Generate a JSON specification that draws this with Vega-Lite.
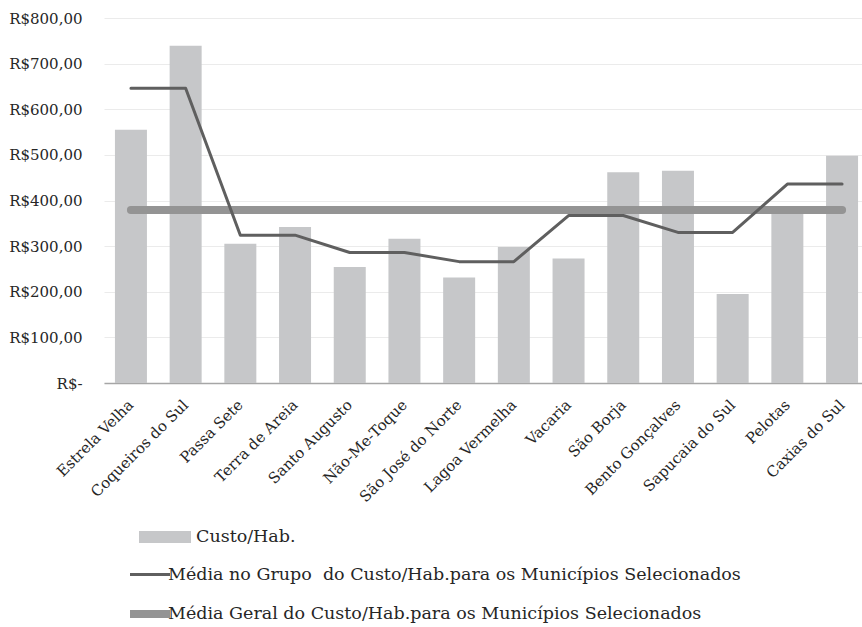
{
  "$schema": "https://vega.github.io/schema/vega-lite/v6.json",
  "autosize": "none",
  "width": 757,
  "height": 365,
  "padding": {"left": 104, "top": 18, "right": 1, "bottom": 244},
  "background": "white",
  "config": {
    "view": {"stroke": null},
    "font": "DejaVu Serif",
    "axis": {"labelFont": "DejaVu Serif", "labelFontSize": 15, "labelColor": "#262626", "titleFont": "DejaVu Serif"},
    "legend": {"labelFont": "DejaVu Serif", "labelFontSize": 17.5, "labelColor": "#262626", "padding": 0, "labelLimit": 800}
  },
  "data": {
    "values": [
      {"mun": "Estrela Velha", "custo": 555, "grupo": 646, "geral": 379},
      {"mun": "Coqueiros do Sul", "custo": 739, "grupo": 646, "geral": 379},
      {"mun": "Passa Sete", "custo": 305, "grupo": 324, "geral": 379},
      {"mun": "Terra de Areia", "custo": 342, "grupo": 324, "geral": 379},
      {"mun": "Santo Augusto", "custo": 254, "grupo": 286, "geral": 379},
      {"mun": "Não-Me-Toque", "custo": 316, "grupo": 286, "geral": 379},
      {"mun": "São José do Norte", "custo": 231, "grupo": 266, "geral": 379},
      {"mun": "Lagoa Vermelha", "custo": 298, "grupo": 266, "geral": 379},
      {"mun": "Vacaria", "custo": 273, "grupo": 367, "geral": 379},
      {"mun": "São Borja", "custo": 462, "grupo": 367, "geral": 379},
      {"mun": "Bento Gonçalves", "custo": 465, "grupo": 330, "geral": 379},
      {"mun": "Sapucaia do Sul", "custo": 195, "grupo": 330, "geral": 379},
      {"mun": "Pelotas", "custo": 375, "grupo": 436, "geral": 379},
      {"mun": "Caxias do Sul", "custo": 498, "grupo": 436, "geral": 379}
    ]
  },
  "encoding": {
    "x": {
      "field": "mun", "type": "nominal", "sort": null, "title": null,
      "scale": {"paddingInner": 0.415, "paddingOuter": 0.2, "range": [0, 765]},
      "axis": {"labelAngle": -45, "ticks": false, "domainColor": "#a6a6a6", "domainWidth": 1.5, "labelPadding": 14, "labelOffset": -5, "grid": false}
    }
  },
  "layer": [
    {
      "mark": {"type": "bar", "color": "#c6c7c9"},
      "encoding": {
        "y": {
          "field": "custo", "type": "quantitative", "title": null,
          "scale": {"domain": [0, 800]},
          "axis": {"values": [0,100,200,300,400,500,600,700,800], "labelOverlap": false, "domain": false, "ticks": false, "tickSize": 0, "labelPadding": 22, "gridColor": "#ebebeb", "gridWidth": 1.2,
            "labelExpr": "datum.value == 0 ? 'R$-\u00a0\u00a0' : 'R$' + replace(format(datum.value, '.2f'), '.', ',')"}
        },
        "fill": {
          "datum": "Custo/Hab.", "type": "nominal",
          "scale": {"domain": ["Custo/Hab."], "range": ["#c6c7c9"]},
          "legend": {"title": null, "orient": "none", "legendX": 35, "legendY": 493, "symbolType": "M-1,-0.23H1V0.23H-1Z", "symbolSize": 2704, "symbolStrokeWidth": 0, "labelOffset": 5}
        }
      }
    },
    {
      "mark": {"type": "line", "strokeCap": "round", "strokeJoin": "round"},
      "encoding": {
        "y": {"field": "geral", "type": "quantitative"},
        "stroke": {"datum": "Média Geral do Custo/Hab.para os Municípios Selecionados", "type": "nominal"},
        "strokeWidth": {"datum": "Média Geral do Custo/Hab.para os Municípios Selecionados", "type": "nominal"}
      }
    },
    {
      "mark": {"type": "line", "strokeCap": "round", "strokeJoin": "round"},
      "encoding": {
        "y": {"field": "grupo", "type": "quantitative"},
        "stroke": {
          "datum": "Média no Grupo\u00a0 do Custo/Hab.para os Municípios Selecionados", "type": "nominal",
          "scale": {"domain": ["Média no Grupo\u00a0 do Custo/Hab.para os Municípios Selecionados", "Média Geral do Custo/Hab.para os Municípios Selecionados"], "range": ["#5f5f5f", "#949494"]},
          "legend": {"title": null, "orient": "none", "legendX": 22, "legendY": 535, "symbolType": "stroke", "symbolSize": 1600, "labelOffset": -6, "rowPadding": 7}
        },
        "strokeWidth": {
          "datum": "Média no Grupo\u00a0 do Custo/Hab.para os Municípios Selecionados", "type": "nominal",
          "scale": {"domain": ["Média no Grupo\u00a0 do Custo/Hab.para os Municípios Selecionados", "Média Geral do Custo/Hab.para os Municípios Selecionados"], "range": [3, 8]},
          "legend": {"title": null, "orient": "none", "legendX": 22, "legendY": 535, "symbolType": "stroke", "symbolSize": 1600, "labelOffset": -6, "rowPadding": 7}
        }
      }
    }
  ]
}
